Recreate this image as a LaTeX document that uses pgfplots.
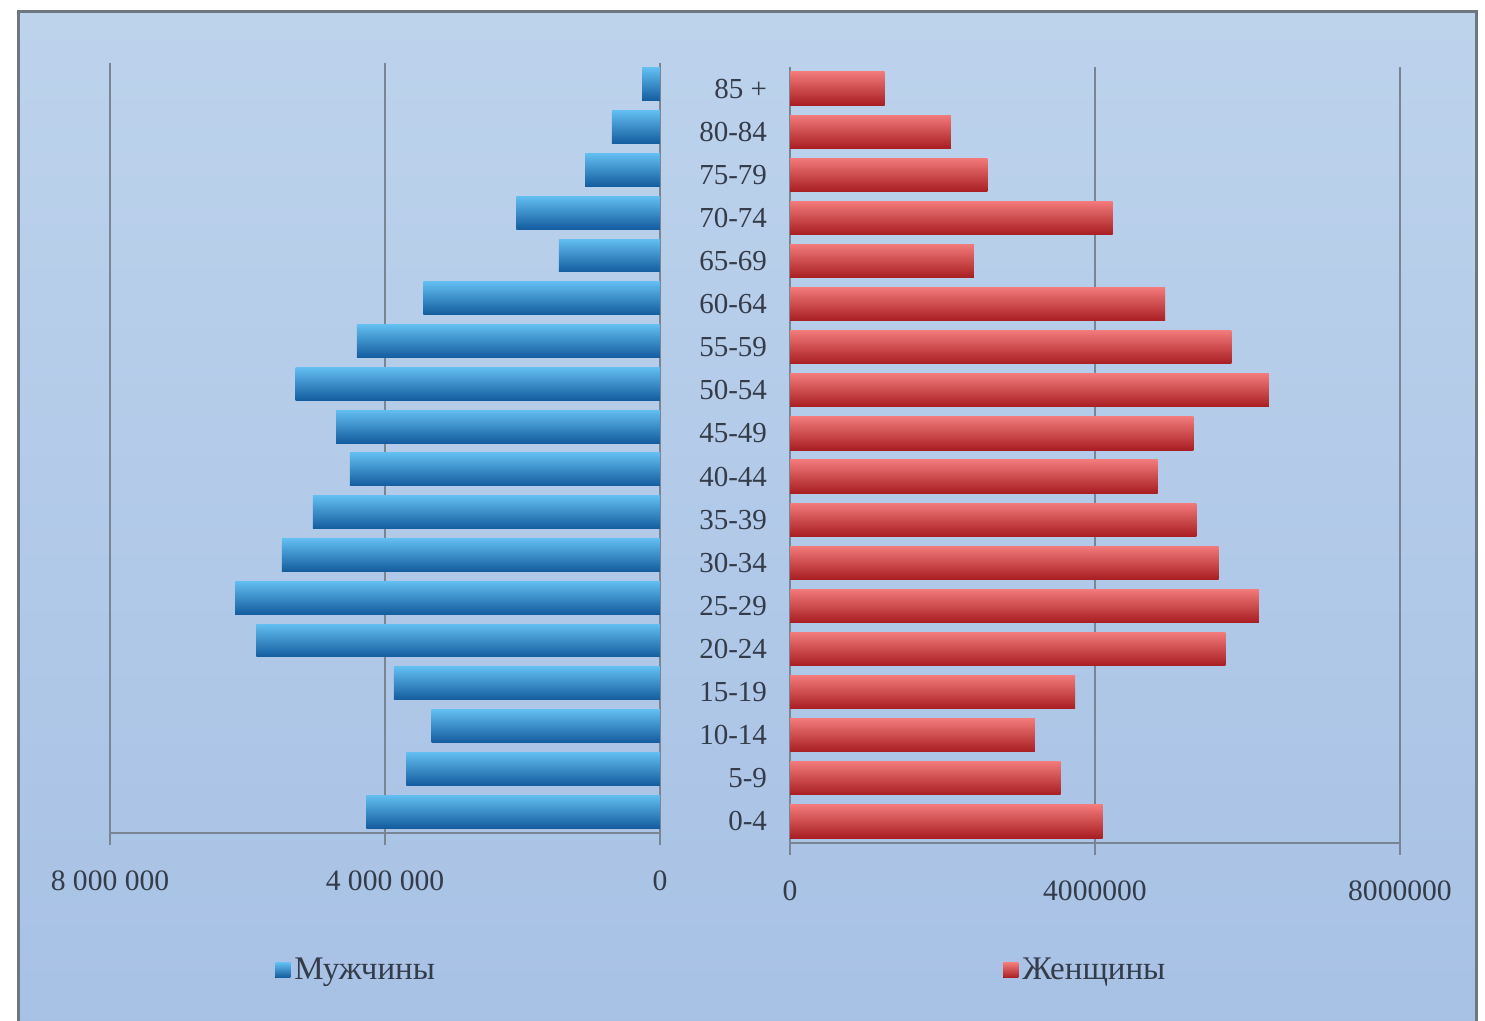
\documentclass[border=0pt]{standalone}
\usepackage{pgfplots}
\pgfplotsset{compat=1.18}
\usepackage{fontspec}
\setmainfont{Liberation Serif}
\definecolor{txt}{HTML}{343C4A}
\definecolor{bgtop}{HTML}{BDD3EC}
\definecolor{bgbot}{HTML}{A7C1E5}
\definecolor{framegray}{HTML}{6E7680}
\definecolor{gridc}{HTML}{7A8594}
\definecolor{bTop}{HTML}{62BEF0}
\definecolor{bMid}{HTML}{2A8BD3}
\definecolor{bBot}{HTML}{145C9E}
\definecolor{rTop}{HTML}{F27A7A}
\definecolor{rMid}{HTML}{E23434}
\definecolor{rBot}{HTML}{A81E22}
\pgfplotsset{
  pyr/.style={
    scale only axis,
    xbar, bar width=0.77,
    xmin=0, xmax=8000000,
    ymin=-0.5, ymax=17.5,
    axis x line*=bottom,
    x axis line style={gridc, line width=0.8pt, -},
    xtick={0,4000000,8000000},
    xmajorgrids, major grid style={gridc, line width=0.8pt},
    tick align=outside, major tick length=6pt,
    xtick style={gridc, line width=0.8pt},
    xticklabel style={font=\fontsize{14.8}{16}\selectfont, text=txt, yshift=-9.5pt},
    scaled x ticks=false,
    legend style={draw=none, fill=none, font=\fontsize{16.5}{18}\selectfont, text=txt, inner sep=0pt},
    legend image code/.code={\fill[##1] (0pt,-3.75pt) rectangle (7.5pt,3.75pt);},
  },
  mbar/.style={draw=none, bar shift=0pt, top color=bTop, middle color=bMid, bottom color=bBot},
  fbar/.style={draw=none, bar shift=0pt, top color=rTop, middle color=rMid, bottom color=rBot},
}
\begin{document}
\begin{tikzpicture}
\useasboundingbox (0,0) rectangle (742.5pt,510.5pt);
\fill[white] (0,0) rectangle (742.5pt,510.5pt);
\shade[top color=bgtop, bottom color=bgbot] (9pt,-10pt) rectangle (738pt,504.5pt);
\draw[framegray, line width=1.5pt] (9pt,-10pt) rectangle (738pt,504.5pt);

\begin{axis}[pyr,
  at={(55pt,94pt)}, anchor=south west,
  width=275pt, height=385pt,
  x dir=reverse,
  axis y line=none,
  xticklabels={0,4 000 000,8 000 000},
  legend style={at={(axis description cs:0.30,-0.178)}, anchor=west},
]
\addplot[mbar] coordinates {(4270000,0)};
\addlegendentry{Мужчины}
\addplot[mbar, forget plot] coordinates {(3690000,1)};
\addplot[mbar, forget plot] coordinates {(3320000,2)};
\addplot[mbar, forget plot] coordinates {(3870000,3)};
\addplot[mbar, forget plot] coordinates {(5870000,4)};
\addplot[mbar, forget plot] coordinates {(6180000,5)};
\addplot[mbar, forget plot] coordinates {(5500000,6)};
\addplot[mbar, forget plot] coordinates {(5050000,7)};
\addplot[mbar, forget plot] coordinates {(4510000,8)};
\addplot[mbar, forget plot] coordinates {(4710000,9)};
\addplot[mbar, forget plot] coordinates {(5300000,10)};
\addplot[mbar, forget plot] coordinates {(4410000,11)};
\addplot[mbar, forget plot] coordinates {(3440000,12)};
\addplot[mbar, forget plot] coordinates {(1470000,13)};
\addplot[mbar, forget plot] coordinates {(2090000,14)};
\addplot[mbar, forget plot] coordinates {(1090000,15)};
\addplot[mbar, forget plot] coordinates {(700000,16)};
\addplot[mbar, forget plot] coordinates {(260000,17)};
\end{axis}

\begin{axis}[pyr,
  at={(395pt,89pt)}, anchor=south west,
  width=305pt, height=388pt,
  axis y line*=left,
  y axis line style={draw=none},
  ytick={0,...,17},
  ytick style={draw=none},
  yticklabels={0-4,5-9,10-14,15-19,20-24,25-29,30-34,35-39,40-44,45-49,50-54,55-59,60-64,65-69,70-74,75-79,80-84,85 +},
  yticklabel style={font=\fontsize{14.5}{16}\selectfont, text=txt, xshift=-2pt},
  xticklabels={0,4000000,8000000},
  legend style={at={(axis description cs:0.349,-0.164)}, anchor=west},
]
\addplot[fbar] coordinates {(4100000,0)};
\addlegendentry{Женщины}
\addplot[fbar, forget plot] coordinates {(3550000,1)};
\addplot[fbar, forget plot] coordinates {(3210000,2)};
\addplot[fbar, forget plot] coordinates {(3740000,3)};
\addplot[fbar, forget plot] coordinates {(5710000,4)};
\addplot[fbar, forget plot] coordinates {(6150000,5)};
\addplot[fbar, forget plot] coordinates {(5620000,6)};
\addplot[fbar, forget plot] coordinates {(5330000,7)};
\addplot[fbar, forget plot] coordinates {(4820000,8)};
\addplot[fbar, forget plot] coordinates {(5290000,9)};
\addplot[fbar, forget plot] coordinates {(6280000,10)};
\addplot[fbar, forget plot] coordinates {(5790000,11)};
\addplot[fbar, forget plot] coordinates {(4920000,12)};
\addplot[fbar, forget plot] coordinates {(2410000,13)};
\addplot[fbar, forget plot] coordinates {(4230000,14)};
\addplot[fbar, forget plot] coordinates {(2590000,15)};
\addplot[fbar, forget plot] coordinates {(2110000,16)};
\addplot[fbar, forget plot] coordinates {(1240000,17)};
\end{axis}
\end{tikzpicture}
\end{document}
